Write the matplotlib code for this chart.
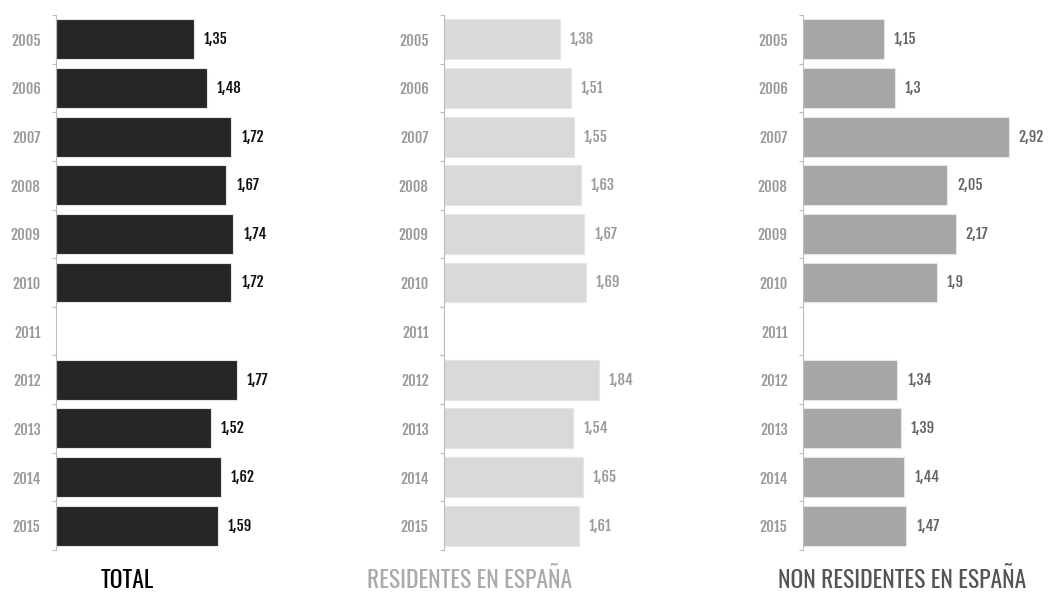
import matplotlib
matplotlib.use('Agg')
import matplotlib.pyplot as plt
import numpy as np

# Data
years = ['2005', '2006', '2007', '2008', '2009', '2010', '2011', '2012', '2013', '2014', '2015']
total = [1.35, 1.48, 1.72, 1.67, 1.74, 1.72, None, 1.77, 1.52, 1.62, 1.59]
residentes = [1.38, 1.51, 1.55, 1.63, 1.67, 1.69, None, 1.84, 1.54, 1.65, 1.61]
non_residentes = [1.15, 1.3, 2.92, 2.05, 2.17, 1.9, None, 1.34, 1.39, 1.44, 1.47]
titles = ['TOTAL', 'RESIDENTES EN ESPAÑA', 'NON RESIDENTES EN ESPAÑA']

# Styles
NUM_FONTS = ['Fjalla One', 'Oswald', 'DejaVu Sans']
TITLE_FONTS = ['Oswald', 'DejaVu Sans']
BAR_COLORS = ['#262626', '#d9d9d9', '#a6a6a6']
VAL_COLORS = ['#111111', '#9a9a9a', '#666666']
TITLE_COLORS = ['#000000', '#aaaaaa', '#555555']
YEAR_COLOR = '#999999'

W, H = 1049, 592
fig = plt.figure(figsize=(W / 100, H / 100), dpi=100)

# panel left (px), width (px), px per unit, title centre x (px)
panels = [
    (56, 250, 102.0, 127),
    (444, 250, 84.0, 470),
    (803, 240, 70.4, 902),
]
top_px, bot_px = 15, 550

for i, (vals, (left, width, ppu, tx)) in enumerate(zip([total, residentes, non_residentes], panels)):
    ax = fig.add_axes([left / W, 1 - bot_px / H, width / W, (bot_px - top_px) / H])
    y = np.arange(len(years))
    v = [np.nan if x is None else x for x in vals]
    ax.barh(y, v, height=0.82, color=BAR_COLORS[i], edgecolor='#e6e6e6', linewidth=0.8)
    ax.set_xlim(0, width / ppu)
    ax.set_ylim(10.5, -0.5)
    for yy, val in zip(y, vals):
        if val is None:
            continue
        txt = f'{val:g}'.replace('.', ',')
        ax.text(val + 10 / ppu, yy, txt, va='center', ha='left', fontsize=10.5,
                color=VAL_COLORS[i], family=NUM_FONTS)
    ax.set_yticks(y)
    ax.set_yticklabels(years, family=NUM_FONTS, fontsize=10.5, color=YEAR_COLOR)
    ax.set_yticks(np.arange(-0.5, 11, 1), minor=True)
    ax.tick_params(axis='y', which='major', length=0, pad=11)
    ax.tick_params(axis='y', which='minor', length=3, color='#bbbbbb', width=0.8)
    ax.set_xticks([])
    for s in ['top', 'right', 'bottom']:
        ax.spines[s].set_visible(False)
    ax.spines['left'].set_color('#bbbbbb')
    ax.spines['left'].set_linewidth(0.8)
    fig.text(tx / W, 1 - 580 / H, titles[i], ha='center', va='center', fontsize=17,
             color=TITLE_COLORS[i], family=TITLE_FONTS)

fig.savefig('out.png', dpi=100)
